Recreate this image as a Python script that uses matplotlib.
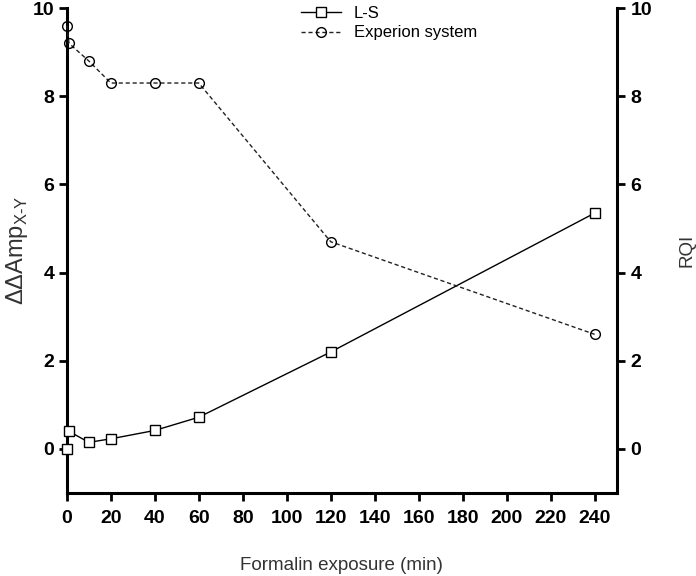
import numpy as np
import matplotlib.pyplot as plt

plt.rcParams['font.family'] = ['Liberation Sans', 'DejaVu Sans']
plt.rcParams['mathtext.fontset'] = 'custom'
plt.rcParams['mathtext.rm'] = 'Liberation Sans'

minutes_ls = [0, 1, 10, 20, 40, 60, 120, 240]
ls_values = [0.0, 0.4, 0.15, 0.23, 0.42, 0.72, 2.2, 5.35]

minutes_exp = [0, 1, 10, 20, 40, 60, 120, 240]
rqi_values = [9.6, 9.2, 8.8, 8.3, 8.3, 8.3, 4.7, 2.6]

xticks = np.arange(0, 241, 20)
yticks = [0, 2, 4, 6, 8, 10]

fig = plt.figure(figsize=(6.96, 5.76), dpi=100)
ax = fig.add_axes([0.096, 0.144, 0.79, 0.842])
ax2 = ax.twinx()

l1, = ax.plot(minutes_ls, ls_values, color='black', lw=1, marker='s', ms=7,
              mfc='white', mec='black', mew=1, label='L-S', clip_on=False, zorder=3)
l2, = ax2.plot(minutes_exp, rqi_values, color='#222222', lw=1, ls='--', dashes=(3, 2),
               marker='o', ms=7, mfc='none', mec='black', mew=1,
               label='Experion system', clip_on=False, zorder=3)

for a in (ax, ax2):
    a.set_ylim(-1, 10)
    a.set_yticks(yticks)
    a.set_xlim(0, 250)
    for s in a.spines.values():
        s.set_linewidth(2.2)
    a.spines['top'].set_visible(False)
    a.tick_params(width=2, length=6, labelsize=14)

ax.spines['right'].set_visible(False)
ax2.spines['left'].set_visible(False)
ax2.spines['bottom'].set_visible(False)
ax.set_xticks(xticks)
ax.tick_params(axis='x', pad=6)
ax.tick_params(axis='y', pad=3)
ax2.tick_params(axis='y', pad=4)
for lab in ax.get_xticklabels() + ax.get_yticklabels() + ax2.get_yticklabels():
    lab.set_fontweight('bold')

ax.set_xlabel('Formalin exposure (min)', fontsize=13.5, color='#333333', labelpad=22)
ax.set_ylabel(r'$\Delta\Delta\mathrm{Amp}_{\mathrm{X\text{-}Y}}$', fontsize=17, color='#333333', labelpad=2)
ax2.set_ylabel('RQI', fontsize=13.5, color='#333333', labelpad=19)

fig.legend([l1, l2], ['L-S', 'Experion system'], loc='upper left',
           bbox_to_anchor=(0.427, 0.995), borderaxespad=0, borderpad=0.2,
           frameon=False, fontsize=12, handlelength=2.4, handletextpad=0.8,
           labelspacing=0.25, markerscale=1.0)

fig.savefig('out.png', dpi=100)
